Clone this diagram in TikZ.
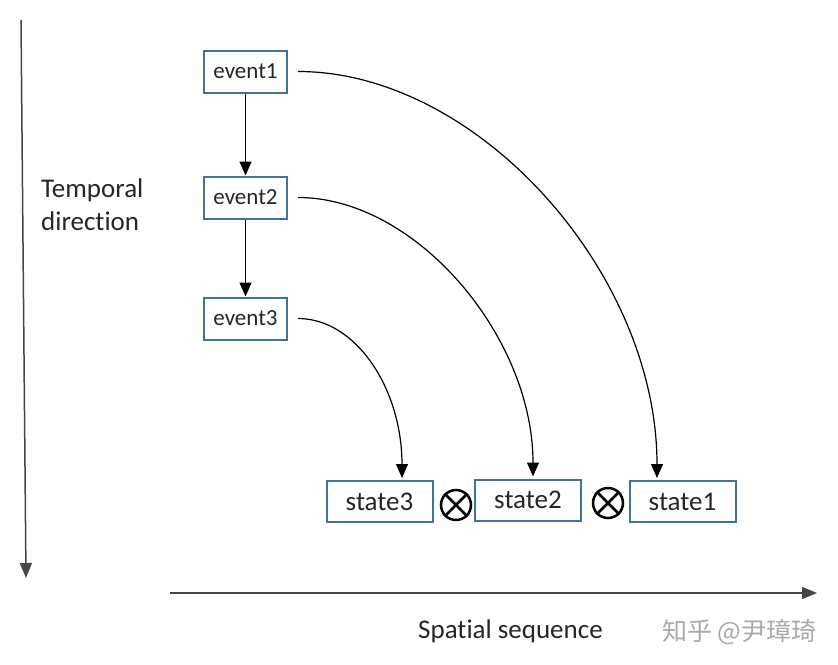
\documentclass[tikz,border=0pt]{standalone}
\usepackage{fontspec}
\setmainfont{Carlito}[Ligatures=CommonOff]
\newfontfamily\cjkfont{Noto Sans CJK SC}
\usetikzlibrary{arrows.meta}
\definecolor{boxblue}{RGB}{65,113,156}
\definecolor{axisgray}{RGB}{70,70,70}
\definecolor{wmgray}{RGB}{170,170,170}
\begin{document}
\begin{tikzpicture}[x=1pt,y=-1pt,
  box/.style={draw=boxblue,line width=2pt,fill=white,inner sep=0pt,text=black!85},
  evbox/.style={box,minimum width=83pt,minimum height=42pt,font=\fontsize{23}{27}\selectfont},
  stbox/.style={box,minimum width=106pt,minimum height=41pt,font=\fontsize{27}{32}\selectfont},
  arr/.style={line width=1.2pt,-{Triangle[length=14pt,width=12pt]}},
  axisarr/.style={line width=1.5pt,draw=axisgray,-{Triangle[length=15pt,width=12pt]}},
  otimesnode/.style={draw,circle,line width=2.5pt,minimum size=30pt,inner sep=0pt},
  lbl/.style={font=\fontsize{27}{32}\selectfont,text=black!85,inner sep=0pt},
  wm/.style={font=\cjkfont\fontsize{25}{30}\selectfont,text=wmgray,inner sep=0pt}
]
\useasboundingbox[fill=white] (0,0) rectangle (838,664);

% axes
\coordinate (vt) at (21,20);
\coordinate (vb) at (26,578);
\coordinate (hl) at (170,593);
\coordinate (hr) at (817,593);
\draw[axisarr] (vt) -- (vb);
\draw[axisarr] (hl) -- (hr);

% event boxes
\node[evbox] (e1) at (245.5,71.5) {event1};
\node[evbox] (e2) at (245.5,197.5) {event2};
\node[evbox] (e3) at (245.5,318.5) {event3};

% state boxes
\node[stbox] (s3) at (379.5,501.5) {state3};
\node[stbox] (s2) at (528,500) {state2};
\node[stbox] (s1) at (682.5,501.5) {state1};

% otimes
\node[otimesnode] (o1) at (456,505) {};
\node[otimesnode] (o2) at (608,503) {};
\draw[line width=2.5pt] (o1.north west) -- (o1.south east) (o1.north east) -- (o1.south west);
\draw[line width=2.5pt] (o2.north west) -- (o2.south east) (o2.north east) -- (o2.south west);

% vertical arrows
\draw[arr] (e1.south) -- (e2.north);
\draw[arr] (e2.south) -- (e3.north);

% curved arrows
\draw[arr] ([xshift=10pt]e1.east) .. controls +(180,0) and +(0,-205) .. ([xshift=-25.5pt,yshift=2pt]s1.north);
\draw[arr] ([xshift=10pt]e2.east) .. controls +(118,0) and +(0,-140) .. ([xshift=5pt,yshift=2pt]s2.north);
\draw[arr] ([xshift=10pt]e3.east) .. controls +(58,0) and +(0,-89) .. ([xshift=22.5pt,yshift=2pt]s3.north);

% labels
\node[lbl,anchor=base west] (t1) at (41,197) {Temporal};
\node[lbl,anchor=base west] (t2) at (41,230) {direction};
\node[lbl,anchor=base west] (sp) at (418,638) {Spatial sequence};
\node[wm,anchor=base west] (w) at (662,640) {知乎 @尹璋琦};
\end{tikzpicture}
\end{document}
